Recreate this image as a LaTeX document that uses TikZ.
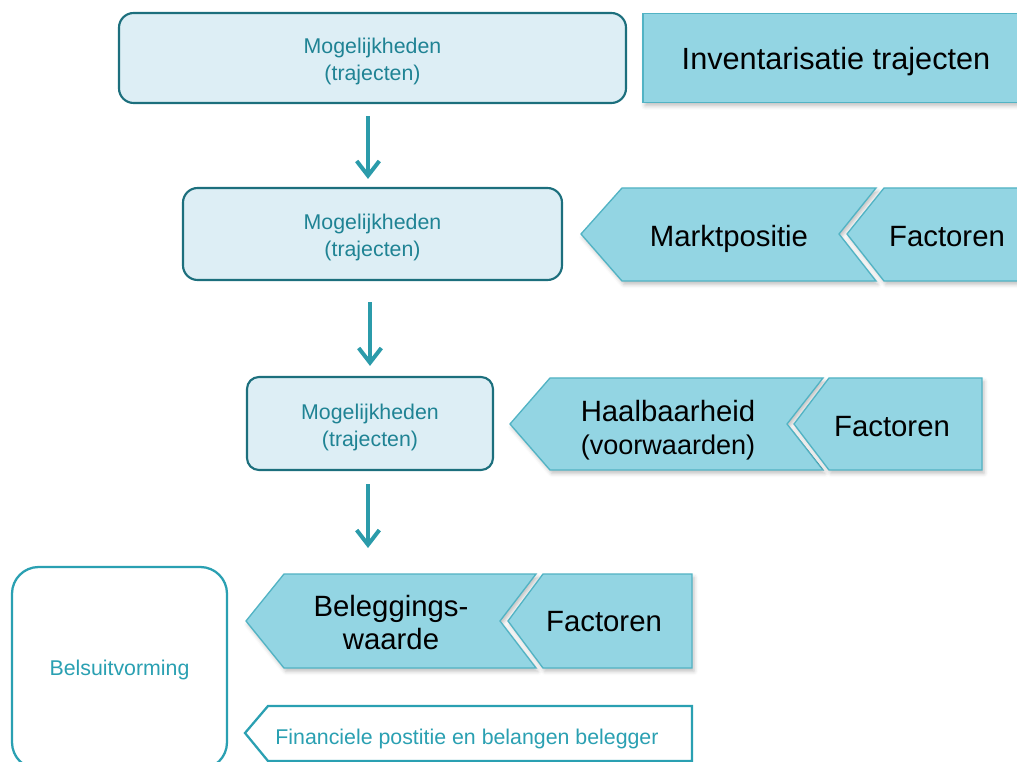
\documentclass[tikz,border=0pt]{standalone}
\usepackage{fontspec}
\setmainfont{Liberation Sans}
\usetikzlibrary{arrows.meta,shadows.blur}
\definecolor{boxfill}{HTML}{DDEEF5}
\definecolor{boxline}{HTML}{1C6F7D}
\definecolor{boxtext}{HTML}{1F8394}
\definecolor{arrowcol}{HTML}{2B9BAA}
\definecolor{chevfill}{HTML}{93D5E3}
\definecolor{chevline}{HTML}{52B3C4}
\definecolor{belline}{HTML}{2AA0B2}
\tikzset{
  optbox/.style={draw=boxline, line width=1.6pt, fill=boxfill, rounded corners=11pt, inner sep=0pt},
  optlabel/.style={align=center, text=boxtext, font=\fontsize{16}{20.25}\selectfont},
  chev/.style={draw=chevline, line width=1pt, fill=chevfill,
    blur shadow={shadow xshift=1.5pt, shadow yshift=-2.5pt, shadow blur radius=3pt, shadow opacity=25}},
  bigtext/.style={align=center, text=black, font=\fontsize{22}{24.75}\selectfont},
  arr/.style={draw=arrowcol, line width=3pt, -{Straight Barb[length=11pt,width=17pt,line width=3pt]}},
  whitebox/.style={draw=belline, line width=1.7pt, fill=white},
  whitetext/.style={text=belline, font=\fontsize{16}{20.25}\selectfont}
}
\begin{document}
\begin{tikzpicture}[x=0.75pt,y=-0.75pt]
\useasboundingbox (0,0) rectangle (1017,762);

% row 1
\node[optbox, minimum width=380.25pt, minimum height=67.5pt] (box1) at (372.5,58) {};
\node[optlabel] (t1) at (372.5,61.5) {Mogelijkheden\\(trajecten)};
\node[draw=chevline, line width=1pt, fill=chevfill, minimum width=290.25pt, minimum height=66.75pt,
  blur shadow={shadow xshift=1.5pt, shadow yshift=-2.5pt, shadow blur radius=3pt, shadow opacity=25}] (inv) at (836.5,58) {};
\node[bigtext, font=\fontsize{23}{26}\selectfont] (invt) at (836,62) {Inventarisatie trajecten};

% row 2
\node[optbox, minimum width=284.25pt, minimum height=69pt] (box2) at (372.5,234) {};
\node[optlabel] (t2) at (372.5,237.5) {Mogelijkheden\\(trajecten)};
\path[chev] (581,234) -- (622,188) -- (876,188) -- (839,234) -- (876,281) -- (622,281) -- cycle;
\path[chev] (847,234) -- (884,188) -- (1030,188) -- (1030,281) -- (884,281) -- cycle;
\node[bigtext] (markt) at (729,239) {Marktpositie};
\node[bigtext] (fac2) at (947,237) {Factoren};

% row 3
\node[optbox, minimum width=184.5pt, minimum height=69.75pt, rounded corners=9pt] (box3) at (370,423.5) {};
\node[optlabel] (t3) at (370,427) {Mogelijkheden\\(trajecten)};
\path[chev] (510,424) -- (550,378) -- (823,378) -- (787,424) -- (823,470) -- (550,470) -- cycle;
\path[chev] (794,424) -- (829,378) -- (982,378) -- (982,470) -- (829,470) -- cycle;
\node[bigtext] (haal) at (668,430) {Haalbaarheid\\{\fontsize{20.3}{24.75}\selectfont(voorwaarden)}};
\node[bigtext] (fac3) at (892,427) {Factoren};

% row 4
\node[whitebox, minimum width=161.25pt, minimum height=151.5pt, rounded corners=20pt] (bel) at (119.5,668) {};
\node[whitetext] (belt) at (119.5,670) {Belsuitvorming};
\path[chev] (246,621) -- (284,574) -- (536,574) -- (500,621) -- (536,668) -- (284,668) -- cycle;
\path[chev] (508,621) -- (543,574) -- (692,574) -- (692,668) -- (543,668) -- cycle;
\node[bigtext] (beleg) at (391,622.5) {Beleggings-\\waarde};
\node[bigtext] (fac4) at (604,622) {Factoren};

% financiele
\path[draw=belline, line width=1.7pt, fill=white] (245,733) -- (268,706) -- (692,706) -- (692,761) -- (268,761) -- cycle;
\node[whitetext] (fin) at (467,739) {Financiele postitie en belangen belegger};

% arrows
\coordinate (end3) at (368,548);
\draw[arr, shorten <=9pt, shorten >=6pt] (box1.south -| 368,0) -- (box2.north -| 368,0);
\draw[arr, shorten <=16pt, shorten >=7.5pt] (box2.south -| 370,0) -- (box3.north -| 370,0);
\draw[arr, shorten <=10pt] (box3.south -| 368,0) -- (end3);
\end{tikzpicture}
\end{document}
